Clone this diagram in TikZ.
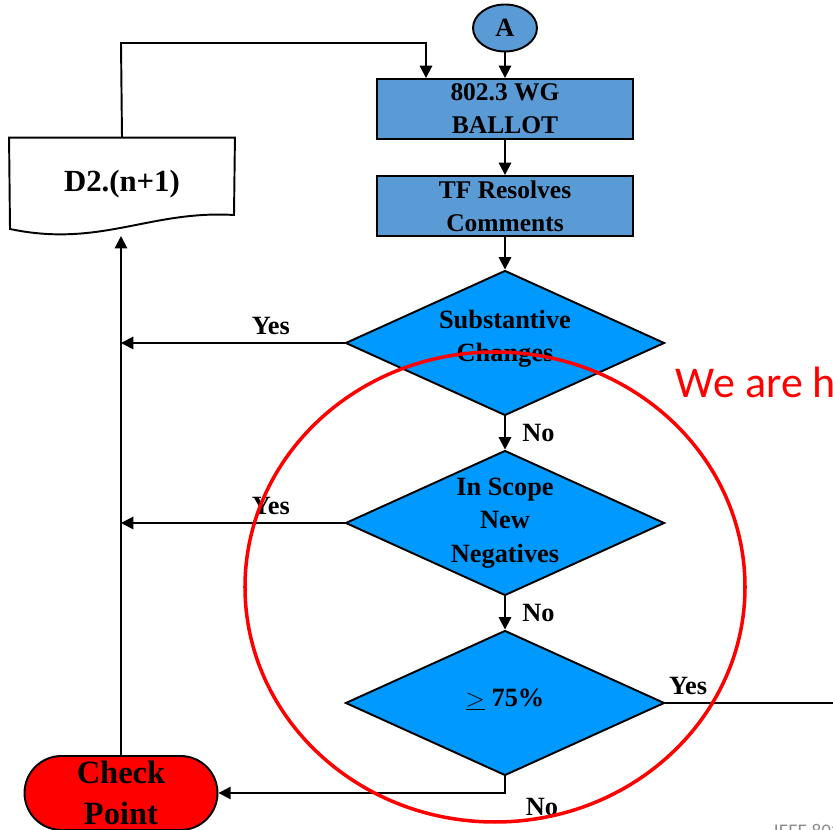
\documentclass[tikz,border=0pt]{standalone}
\usepackage{fontspec}
\setmainfont{Liberation Serif}
\newfontfamily\calibri{Carlito}
\usetikzlibrary{shapes.misc, shapes.geometric, positioning, arrows.meta}
\definecolor{boxblue}{RGB}{91,155,213}
\definecolor{diamondblue}{RGB}{0,153,255}
\definecolor{footgray}{RGB}{140,140,140}

\begin{document}
\begin{tikzpicture}[x=0.02cm, y=-0.02cm, line width=1.1pt,
	>={Triangle[length=7pt,width=7pt]},
	stepbox/.style={rectangle, draw, fill=boxblue, minimum width=5.12cm, minimum height=1.2cm, inner sep=0pt, align=center, font=\fontsize{14.5}{18.7}\selectfont\bfseries},
	decision/.style={diamond, draw, fill=diamondblue, minimum width=6.38cm, minimum height=2.9cm, inner sep=0pt},
	dtext/.style={align=center, font=\fontsize{15}{18.9}\selectfont\bfseries},
	answer/.style={font=\fontsize{15}{18}\selectfont\bfseries}]
	\clip (0,0) rectangle (833,830);
	\useasboundingbox (0,0) rectangle (833,830);
	\node[ellipse,draw,fill=boxblue,minimum width=1.28cm,minimum height=0.94cm,inner sep=0pt,font=\fontsize{15}{18}\selectfont\bfseries] at (505,28) (start) {A};
	\node[stepbox] at (505,109) (ballot) {802.3 WG\\BALLOT};
	\node[stepbox] at (505,206) (resolve) {TF Resolves\\Comments};
	\node[decision] at (505,343) (subst) {};
	\node[dtext] at (505,339) (substtext) {Substantive\\Changes};
	\node[decision] at (505,523) (scope) {};
	\node[dtext] at (505,523) (scopetext) {In Scope\\New\\Negatives};
	\node[decision] at (505,703) (quorum) {};
	\node[dtext] at (505,700) (quorumtext) {$\underline{>}$ 75\%};
	\node[rounded rectangle,draw,fill=red,minimum width=3.86cm,minimum height=1.48cm,inner sep=0pt,align=center,font=\fontsize{18.5}{23.5}\selectfont\bfseries] at (121,793) (check) {Check\\Point};
	\node[minimum width=4.48cm,minimum height=1.82cm,font=\fontsize{17.5}{20}\selectfont\bfseries] at (122,184) (draft) {D2.(n+1)};
	\draw (draft.north west) -- (draft.north east) -- (234,215) .. controls (150,210) and (100,248) .. (10,229) -- cycle;
	\coordinate (draftin) at (121,236);
	\coordinate (loopup) at (121,43);
	\coordinate (loopin) at (426,43);
	\coordinate (yesout) at (840,703);
	\coordinate (nobend) at (505,793);
	% main flow
	\draw[->] (start)--(ballot.north -| start);
	\draw[->] (ballot)--(resolve);
	\draw[->] (resolve)--(subst);
	\draw[->] (subst)--(scope) node[pos=0.5,right=6pt,answer] {No};
	\draw[->] (scope)--(quorum) node[pos=0.5,right=6pt,answer] {No};
	\draw[->] (quorum.south)--(nobend) node[below right=-1pt and 8pt,answer] {No} --(check.east);
	\draw (quorum.east)--(yesout) node[pos=0.13,above=1pt,answer] {Yes};
	% back to the draft
	\draw[->] (subst.west)--(subst.west -| check) node[pos=0.33,above=1pt,answer] {Yes};
	\draw[->] (scope.west)--(scope.west -| check) node[pos=0.33,above=1pt,answer] {Yes};
	\draw[->] (check.north)--(draftin);
	\draw[->] (draft.north)--(loopup)--(loopin)--(loopin |- ballot.north);
	% marker
	\draw[red,line width=2pt] (495,587) ellipse [x radius=250, y radius=235];
	\node[anchor=base west,inner sep=0pt,text=red,font=\calibri\fontsize{25}{30}\selectfont] at (675,398) (here) {We are h};
	\node[anchor=base west,inner sep=0pt,text=footgray,font=\calibri\fontsize{11}{13}\selectfont] at (773,838) (footer) {IEEE 802.3};
\end{tikzpicture}
\end{document}
